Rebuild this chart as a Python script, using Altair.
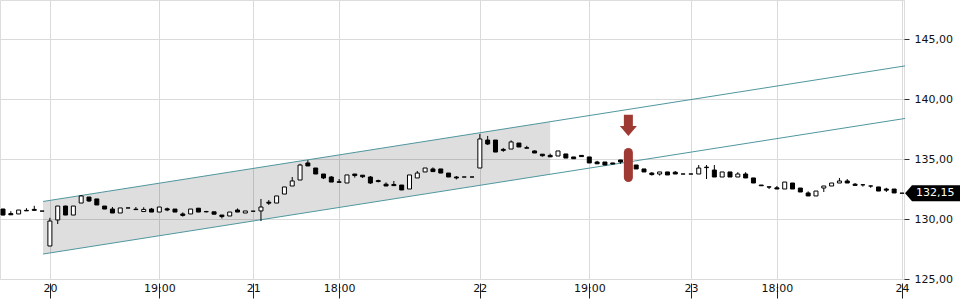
import altair as alt
import numpy as np
import pandas as pd

# ---- candle data (hourly bars, index 0..115) ----
opens = [130.83,130.45,130.42,130.72,130.80,130.66,127.75,129.92,131.08,130.33,
 131.33,131.83,131.67,131.08,130.83,130.50,130.92,130.82,130.62,130.83,
 130.58,130.85,130.83,130.42,130.42,130.90,130.62,130.60,130.33,130.25,
 130.75,130.50,130.65,130.67,131.40,131.33,132.08,132.75,133.25,134.67,
 134.25,133.75,133.50,133.10,133.00,133.75,133.65,133.50,133.20,132.90,
 132.88,132.83,132.50,133.42,133.92,134.17,134.17,133.83,133.50,133.50,
 133.50,134.25,136.58,136.58,135.80,135.83,136.33,135.94,135.67,135.40,
 135.30,135.25,135.42,135.17,135.30,135.17,134.75,134.75,134.67,134.92,
 134.60,134.50,134.17,133.83,133.75,133.92,133.90,133.75,133.75,133.75,
 134.32,134.08,133.50,133.92,133.50,133.75,133.42,132.83,132.68,132.60,
 132.50,133.00,132.58,132.17,131.92,132.58,132.75,133.00,133.17,132.90,
 132.85,132.75,132.67,132.50,132.50,132.15]
closes = [130.33,130.35,130.75,130.68,130.72,130.66,129.83,131.08,130.33,131.08,
 131.92,131.50,131.17,130.83,130.50,130.92,130.92,130.78,130.80,130.58,
 131.00,130.75,130.58,130.30,130.83,130.58,130.60,130.40,130.20,130.58,
 130.58,130.67,130.65,131.00,131.32,131.92,132.67,133.17,134.50,134.42,
 133.75,133.42,133.08,133.06,133.67,133.62,133.52,133.00,133.12,132.75,
 132.78,132.42,133.67,133.83,134.25,133.95,133.83,133.50,133.42,133.50,
 133.50,136.67,136.25,135.58,135.72,136.42,136.00,135.90,135.50,135.27,
 135.18,135.67,135.08,135.02,135.20,134.67,134.60,134.50,134.58,134.75,
 134.50,134.17,133.92,133.70,133.92,133.67,133.75,133.75,133.75,134.25,
 134.28,133.50,133.92,133.50,133.75,133.42,133.00,132.77,132.66,132.50,
 133.08,132.50,132.25,131.92,132.33,132.75,133.00,133.17,133.00,132.80,
 132.85,132.75,132.33,132.40,132.17,132.15]
highs = [130.85,130.65,130.75,130.90,131.10,130.66,130.10,131.08,131.10,131.08,
 132.00,131.83,131.67,131.08,131.00,130.92,130.92,131.00,130.98,130.92,
 131.00,130.95,130.83,130.55,130.83,130.90,130.68,130.60,130.33,130.58,
 130.88,130.67,130.65,131.67,131.58,131.92,132.67,133.50,134.60,134.90,
 134.25,133.75,133.58,133.33,133.67,133.75,133.65,133.58,133.28,133.05,
 133.17,132.83,133.67,134.00,134.25,134.30,134.17,133.83,133.58,133.50,
 133.50,137.08,136.92,136.58,135.92,136.55,136.33,136.10,135.72,135.40,
 135.45,135.67,135.42,135.17,135.30,135.17,134.85,134.75,134.67,134.92,
 134.70,134.50,134.17,133.90,133.92,133.92,134.00,133.75,133.75,134.50,
 134.50,134.50,133.92,133.92,133.90,133.90,133.42,132.83,132.68,132.75,
 133.08,133.00,132.58,132.30,132.33,132.75,133.00,133.42,133.33,133.00,
 132.90,132.80,132.67,132.60,132.50,132.15]
lows = [130.30,130.35,130.42,130.68,130.72,130.66,127.75,129.58,130.33,130.33,
 131.33,131.42,131.17,130.83,130.50,130.50,130.92,130.78,130.62,130.58,
 130.58,130.65,130.58,130.20,130.42,130.58,130.55,130.40,130.05,130.25,
 130.58,130.50,130.65,129.83,131.17,131.33,132.08,132.75,133.25,134.42,
 133.75,133.33,133.08,133.06,133.00,133.45,133.42,132.92,133.05,132.75,
 132.78,132.42,132.50,133.42,133.92,133.95,133.83,133.50,133.30,133.50,
 133.50,134.25,136.17,135.58,135.60,135.83,136.00,135.90,135.50,135.20,
 135.18,135.25,135.08,135.02,135.20,134.67,134.60,134.50,134.58,134.60,
 134.45,134.17,133.92,133.62,133.62,133.67,133.75,133.75,133.75,133.75,
 133.33,133.50,133.50,133.50,133.50,133.42,133.00,132.77,132.50,132.50,
 132.50,132.50,132.25,131.92,131.92,132.25,132.75,133.00,133.00,132.80,
 132.70,132.60,132.33,132.25,132.17,132.15]

# ---- axis ticks ----
tick_idx = [6, 20, 32, 43, 61, 75, 88, 99, 115]
tick_labels = ["20", "19:00", "21", "18:00", "22", "19:00", "23", "18:00", "24"]
price_ticks = [125, 130, 135, 140, 145]

# ---- trend channel (start, end of shading, end of lines) ----
channel_x = [5.12, 70.0, 115.4]
channel_upper = [131.46, 138.11, 142.76]
channel_lower = [127.08, 133.73, 138.38]

# ---- annotation ----
signal_idx = [80]
arrow_price = [137.8]
pill_top = [135.55]
pill_bottom = [133.45]
last_price = [132.15]
last_label = ["132,15"]

FONT = "DejaVu Sans"
RED = "#9e3a33"
TEAL = "#4f979e"

df = pd.DataFrame({"i": list(range(len(opens))), "open": opens, "high": highs,
                   "low": lows, "close": closes})
df["dir"] = np.where(df["close"] >= df["open"], "up", "down")

xs = alt.Scale(domain=[-0.384, 115.26], nice=False, zero=False, padding=0)
ys = alt.Scale(domain=[125, 148.25], nice=False, zero=False, padding=0)

lab_arr = "[" + ",".join("'%s'" % s for s in tick_labels) + "]"
idx_arr = "[" + ",".join(str(v) for v in tick_idx) + "]"

xaxis = alt.Axis(values=tick_idx, labelExpr=f"{lab_arr}[indexof({idx_arr}, datum.value)]",
                 grid=True, gridColor="#dadada", domain=False, ticks=True, tickSize=19,
                 tickColor="#222", tickDash=[0, 4, 15, 100], labelPadding=-16,
                 labelFont=FONT, labelFontSize=11, labelColor="#111", title=None,
                 labelFlush=False, labelOverlap=False)
yaxis = alt.Axis(orient="right", values=price_ticks,
                 labelExpr="replace(format(datum.value, '.2f'), '.', ',')",
                 grid=True, gridColor="#dadada", domain=False, tickSize=5,
                 tickColor="#333", labelPadding=5, labelFont=FONT, labelFontSize=11,
                 labelColor="#111", title=None, labelFlush=False)


def X(field="i"):
    return alt.X(f"{field}:Q", scale=xs, axis=xaxis)


def Y(field):
    return alt.Y(f"{field}:Q", scale=ys, axis=yaxis)


ch = pd.DataFrame({"i": channel_x, "upper": channel_upper, "lower": channel_lower})
shade = alt.Chart(ch.iloc[:2]).mark_area(color="black", opacity=0.13).encode(
    x=X(), y=Y("lower"), y2="upper:Q")
ch_long = pd.concat([
    pd.DataFrame({"i": [channel_x[0], channel_x[-1]], "price": [channel_upper[0], channel_upper[-1]], "side": "u"}),
    pd.DataFrame({"i": [channel_x[0], channel_x[-1]], "price": [channel_lower[0], channel_lower[-1]], "side": "l"}),
])
lines = alt.Chart(ch_long).mark_line(color=TEAL, strokeWidth=1).encode(
    x=X(), y=Y("price"), detail="side:N")

wicks = alt.Chart(df).mark_rule(color="black", strokeWidth=1).encode(
    x=X(), y=Y("low"), y2="high:Q")
bodies = alt.Chart(df).mark_bar(size=4, stroke="black", strokeWidth=1).encode(
    x=X(), y=Y("open"), y2="close:Q",
    fill=alt.condition("datum.dir == 'up'", alt.value("white"), alt.value("black")))

ann = pd.DataFrame({"i": signal_idx, "arrow": arrow_price, "top": pill_top, "bot": pill_bottom})
pill = alt.Chart(ann).mark_rule(color=RED, strokeWidth=9, strokeCap="round").encode(
    x=X(), y=Y("bot"), y2="top:Q")
arrow_path = "M-0.53,-1.24L0.53,-1.24L0.53,0.06L1,0.06L0,1.24L-1,0.06L-0.53,0.06Z"
arrow = alt.Chart(ann).mark_point(shape=arrow_path, size=289, filled=True, color=RED,
                                  opacity=1, strokeWidth=0).encode(x=X(), y=Y("arrow"))

lp = pd.DataFrame({"price": last_price, "label": last_label})
tag_path = "M-1,0L-0.745,-0.29L1,-0.29L1,0.29L-0.745,0.29Z"
tag = alt.Chart(lp).mark_point(shape=tag_path, size=3025, filled=True, color="black",
                               opacity=1, strokeWidth=0).encode(
    x=alt.value(932.5), y=Y("price"))
tag_text = alt.Chart(lp).mark_text(align="left", baseline="middle", color="white",
                                   font=FONT, fontSize=11).encode(
    x=alt.value(916), y=Y("price"), text="label:N")

chart = alt.layer(shade, lines, wicks, bodies, pill, arrow, tag, tag_text).properties(
    width=904, height=279, padding=0
).configure_view(stroke=None).configure(background="white")

chart.save("out.html", embed_options={"renderer": "svg", "actions": False})
